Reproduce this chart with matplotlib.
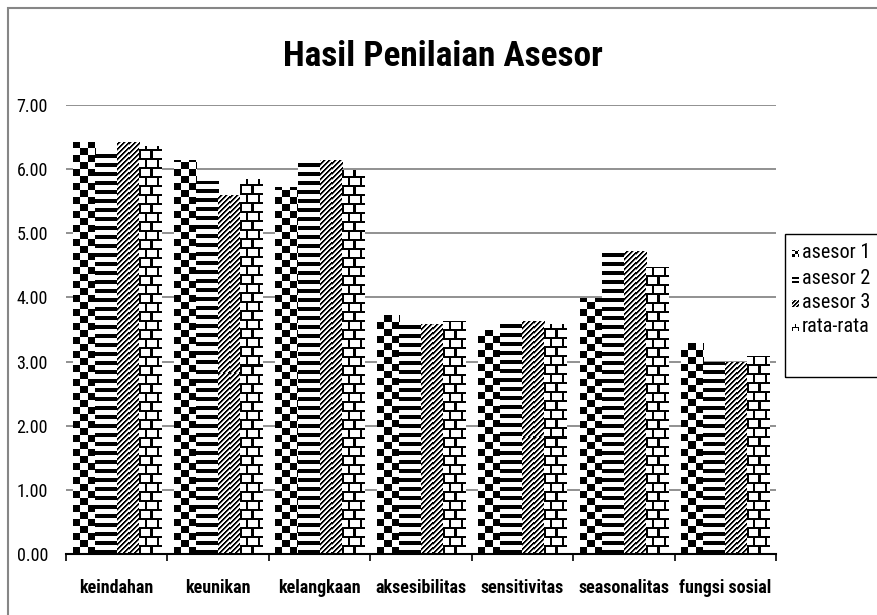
import os
import numpy as np
import matplotlib
matplotlib.use("Agg")
import matplotlib.pyplot as plt
from matplotlib import font_manager as fm
from matplotlib.patches import Rectangle

# data
categories = ["keindahan", "keunikan", "kelangkaan", "aksesibilitas",
              "sensitivitas", "seasonalitas", "fungsi sosial"]
asesor1 = [6.42, 6.14, 5.72, 3.73, 3.50, 3.99, 3.29]
asesor2 = [6.23, 5.82, 6.09, 3.58, 3.64, 4.69, 2.99]
asesor3 = [6.42, 5.60, 6.14, 3.58, 3.64, 4.72, 2.99]
rata_rata = [6.36, 5.85, 5.98, 3.63, 3.59, 4.47, 3.09]
series_names = ["asesor 1", "asesor 2", "asesor 3", "rata-rata"]
yticks = [0, 1, 2, 3, 4, 5, 6, 7]

W, H = 878, 615

# narrow humanist font to stand in for Calibri, if one is installed
files = {os.path.basename(f.fname): f.fname for f in fm.fontManager.ttflist}

def pick(cands):
    for c in cands:
        if c in files:
            return files[c]
    return None

REG = pick(["RobotoCondensed-Regular.ttf", "NotoSans-SemiCondensed.ttf",
            "LiberationSansNarrow-Regular.ttf", "DejaVuSansCondensed.ttf"])
BOLD = pick(["RobotoCondensed-Bold.ttf", "NotoSans-SemiCondensedBold.ttf",
             "LiberationSansNarrow-Bold.ttf", "DejaVuSansCondensed-Bold.ttf"])

def fp(size, bold=False):
    path = BOLD if bold else REG
    if path:
        return fm.FontProperties(fname=path, size=size)
    return fm.FontProperties(family="Open Sans", weight="bold" if bold else "normal", size=size)

# black/white fill patterns, row 0 = bottom
def pattern(kind, h, w, small=False):
    y, x = np.mgrid[0:h, 0:w]
    if kind == 0:  # checkerboard
        s = 3 if small else 7
        v = ((x // s + y // s) % 2).astype(float)
    elif kind == 1:  # thick horizontal stripes
        p, t = (4, 2) if small else (9, 4)
        v = (y % p >= t).astype(float)
    elif kind == 2:  # thin diagonal stripes
        p = 4 if small else 5
        m = (x - y) % p
        v = np.where(m < 2, 0.0, np.where(m == 2, 0.6, 1.0))
    else:  # brick
        rh, bw, t = (4, 6, 1) if small else (9, 11, 2)
        row = y // rh
        v = np.ones((h, w))
        v[(y % rh) >= rh - t] = 0.0
        v[((x + (row % 2) * (bw // 2)) % bw) < t] = 0.0
    return np.dstack([v, v, v])

fig = plt.figure(figsize=(W / 100, H / 100), dpi=100)
ax = fig.add_axes([66 / W, 1 - 554 / H, 710 / W, 449 / H])
ax.set_xlim(-0.5, len(categories) - 0.5)
ax.set_ylim(0, 7)

x = np.arange(len(categories))
bw = 0.2175
all_series = [asesor1, asesor2, asesor3, rata_rata]
for k, vals in enumerate(all_series):
    bars = ax.bar(x + (k - 1.5) * bw, vals, bw, color="white", edgecolor="none", zorder=2)
    for b in bars:
        x0, y0 = ax.transData.transform((b.get_x(), 0))
        x1, y1 = ax.transData.transform((b.get_x() + b.get_width(), b.get_height()))
        pw, ph = int(round(x1 - x0)), int(round(y1 - y0))
        im = ax.imshow(pattern(k, ph, pw), origin="lower", interpolation="nearest",
                       extent=(b.get_x(), b.get_x() + b.get_width(), 0, b.get_height()),
                       aspect="auto", zorder=2.2)
        im.set_clip_path(b)

ax.set_xlim(-0.5, len(categories) - 0.5)
ax.set_ylim(0, 7)

# y axis
ax.set_yticks(yticks)
ax.set_yticklabels(["%.2f" % v for v in yticks], fontproperties=fp(13))
ax.tick_params(axis="y", length=0, pad=13)
ax.yaxis.grid(True, color="#888888", lw=1.3)
ax.set_axisbelow(True)

# x axis: ticks on boundaries, labels in between
ax.set_xticks(np.arange(len(categories) + 1) - 0.5)
ax.set_xticklabels([])
ax.set_xticks(x, minor=True)
ax.set_xticklabels(categories, minor=True, fontproperties=fp(13, True))
ax.tick_params(axis="x", which="major", length=5, width=1.2, color="black", direction="out")
ax.tick_params(axis="x", which="minor", length=0, pad=18)

for s in ["left", "top", "right"]:
    ax.spines[s].set_visible(False)
ax.spines["bottom"].set_color("black")
ax.spines["bottom"].set_linewidth(1.5)
ax.spines["bottom"].set_zorder(3)

fig.text(443 / W, 1 - 57 / H, "Hasil Penilaian Asesor", ha="center", va="center",
         fontproperties=fp(25.5, True))

# outer chart border
fig.add_artist(Rectangle((8 / W, -0.1), 1.2, 1.1 - 8 / H, transform=fig.transFigure,
                         fill=False, edgecolor="#868686", lw=1.5))

# legend box, drawn by hand
fig.add_artist(Rectangle((785 / W, 1 - 377 / H), 0.3, 143 / H, transform=fig.transFigure,
                         fill=False, edgecolor="black", lw=1.0))
leg_y = [253, 279, 303, 327]
for k, name in enumerate(series_names):
    fig.text(802 / W, 1 - leg_y[k] / H, name, ha="left", va="center", fontproperties=fp(14.5))
    fig.figimage(pattern(k, 7, 7, small=True), xo=792, yo=H - leg_y[k] - 4,
                 origin="lower", zorder=3)

fig.savefig("out.png", dpi=100)
